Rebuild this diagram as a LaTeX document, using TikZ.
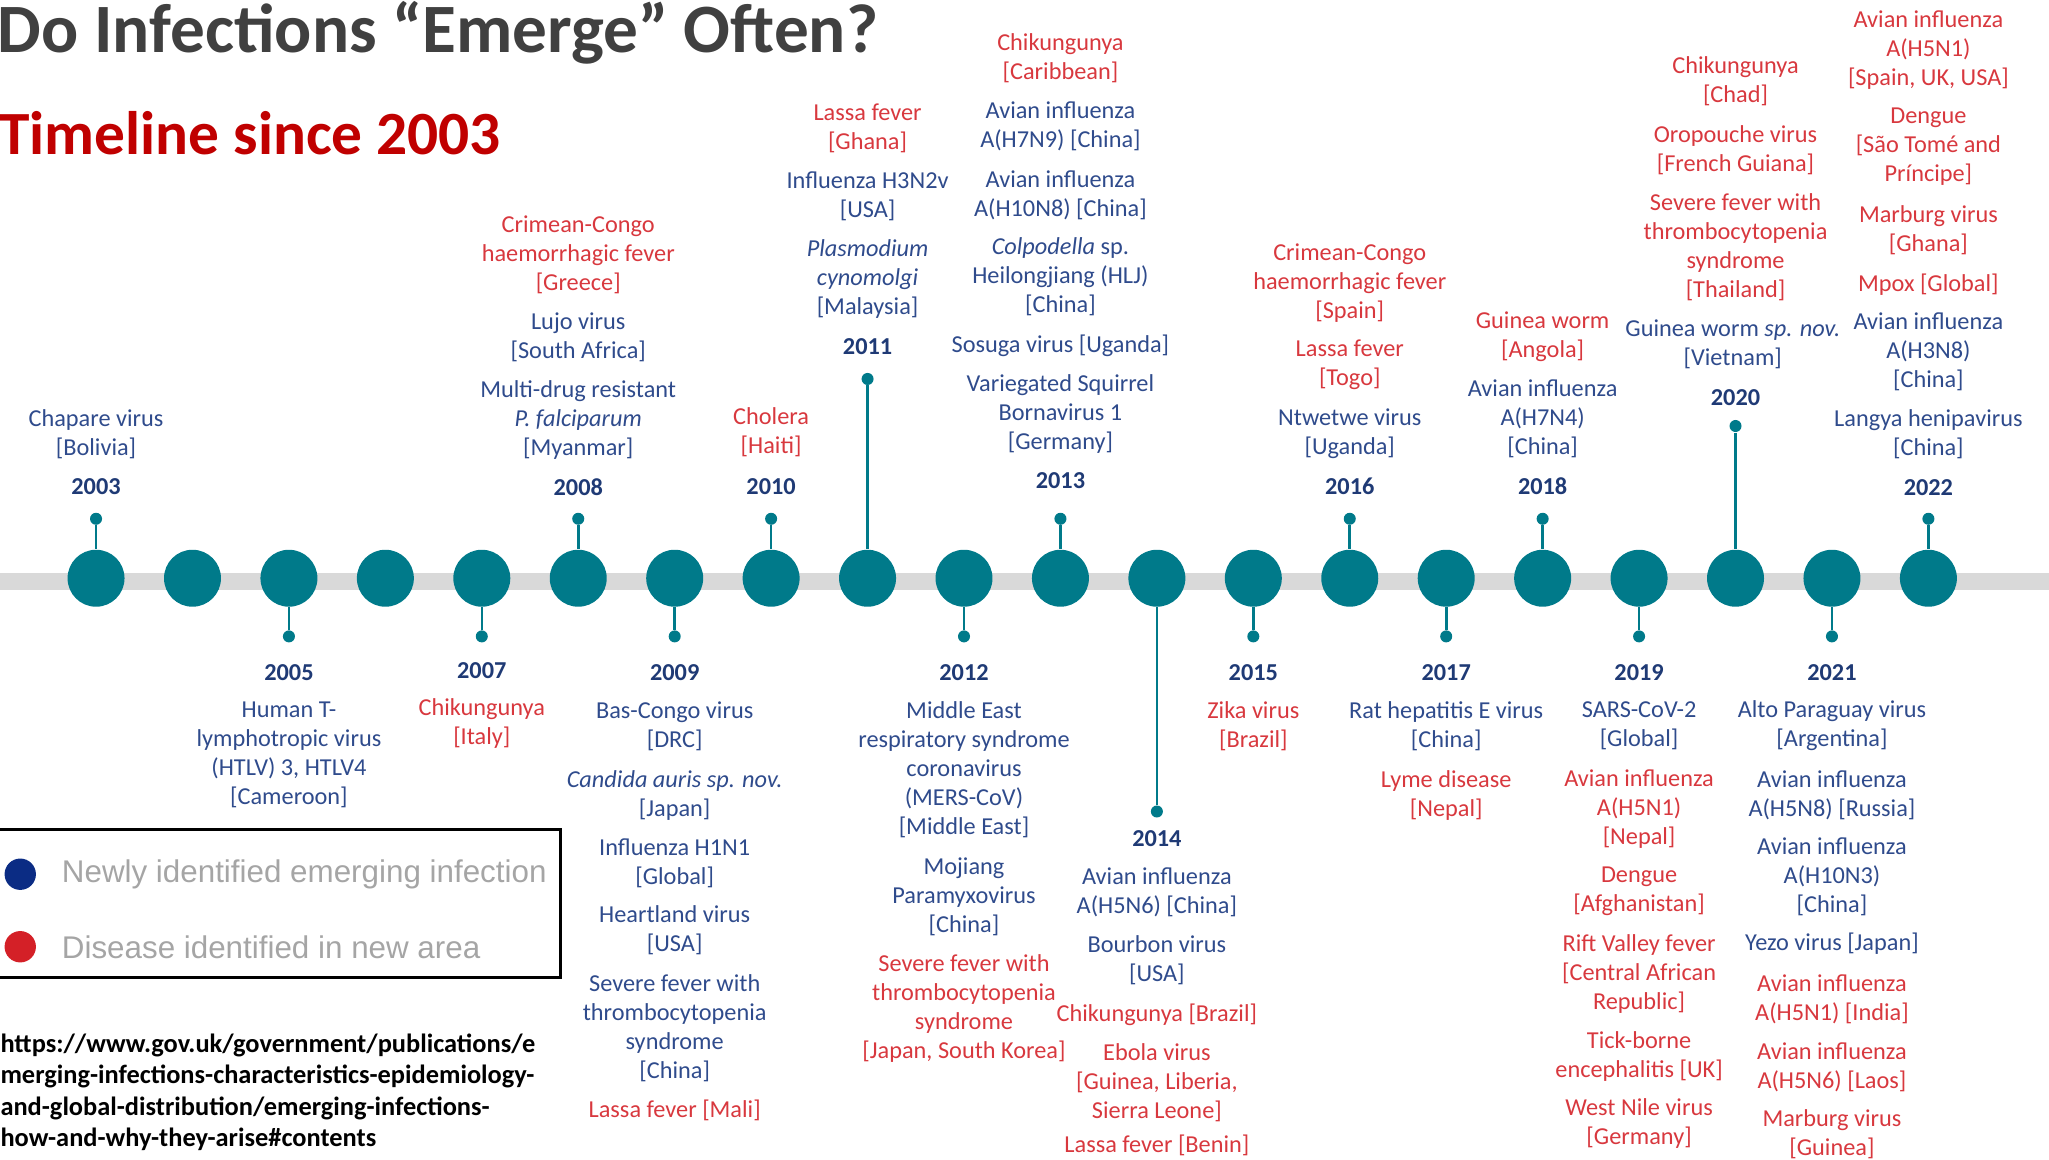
\documentclass[tikz,border=0pt]{standalone}
\usepackage{fontspec}
\setmainfont{Carlito}
\newfontfamily\arialf{Liberation Sans}
\definecolor{tealc}{HTML}{007A8A}
\definecolor{barc}{HTML}{D9D9D9}
\definecolor{blueT}{HTML}{2F4B8C}
\definecolor{redT}{HTML}{D8383E}
\definecolor{navyY}{HTML}{1F3A75}
\definecolor{titlegray}{HTML}{404040}
\definecolor{titlered}{HTML}{C00000}
\definecolor{lgblue}{HTML}{0B2C84}
\definecolor{lgred}{HTML}{D42027}
\definecolor{lggray}{HTML}{A5A5A5}
\begin{document}
\begin{tikzpicture}[x=0.5pt,y=-0.5pt,
  bl/.style={text=blueT,align=center,inner sep=0pt,yshift=-0.75pt,font=\fontsize{9.3}{11.1}\selectfont},
  rd/.style={bl,text=redT},
  yr/.style={text=navyY,inner sep=0pt,yshift=-0.5pt,font=\fontsize{9.3}{11.1}\selectfont\bfseries},
  bigc/.style={circle,fill=tealc,minimum size=21.8pt,inner sep=0pt},
  tipdot/.style={circle,fill=tealc,minimum size=4.6pt,inner sep=0pt},
  stem/.style={draw=tealc,line width=1pt},
  lgtext/.style={anchor=west,inner sep=0pt,text=lggray,font=\arialf\fontsize{12}{14}\selectfont},
]
\useasboundingbox (0,0) rectangle (1568,887);
% timeline bar
\coordinate (barL) at (0,445);
\coordinate (barR) at (1568,445);
\draw[barc,line width=6.5pt] (barL) -- (barR);
% year circles
\foreach \yy in {2003,...,2022}{
  \pgfmathsetmacro\xx{73.5+73.8*(\yy-2003)}
  \node[bigc] (c\yy) at (\xx,442.5) {};
}
% stems, dots, year labels
\foreach \yy/\dy/\ly in {2003/397/371,2008/397/372,2010/397/371,2011/290/264,2013/397/367,2016/397/371,2018/397/371,2020/326/303,2022/397/372,
  2005/487/514,2007/487/512,2009/487/514,2012/487/514,2014/621/641,2015/487/514,2017/487/514,2019/487/514,2021/487/514}{
  \pgfmathsetmacro\xx{73.5+73.8*(\yy-2003)}
  \node[tipdot] (d\yy) at (\xx,\dy) {};
  \draw[stem] (d\yy) -- (c\yy);
  \node[yr] (y\yy) at (\xx,\ly) {\yy};
}
% title
\node[anchor=base west,inner sep=0pt,text=titlegray,font=\fontsize{26.5}{30}\selectfont\bfseries] (title) at (-2,40) {Do Infections “Emerge” Often?};
\node[anchor=base west,inner sep=0pt,text=titlered,font=\fontsize{23.5}{28}\selectfont\bfseries] (subtitle) at (-1,118.6) {Timeline since 2003};
% ---- above entries
% 2003
\node[bl] (e2003a) at (73.5,330.5) {Chapare virus\\{}[Bolivia]};
% 2008
\node[rd] (e2008a) at (442.5,193.5) {Crimean-Congo\\haemorrhagic fever\\{}[Greece]};
\node[bl] (e2008b) at (442.5,256.5) {Lujo virus\\{}[South Africa]};
\node[bl] (e2008c) at (442.5,320) {Multi-drug resistant\\\textit{P. falciparum}\\{}[Myanmar]};
% 2010
\node[rd] (e2010a) at (590.1,329.5) {Cholera\\{}[Haiti]};
% 2011
\node[rd] (e2011a) at (663.9,96.5) {Lassa fever\\{}[Ghana]};
\node[bl] (e2011b) at (663.9,149) {Influenza H3N2v\\{}[USA]};
\node[bl] (e2011c) at (663.9,212) {\textit{Plasmodium}\\\textit{cynomolgi}\\{}[Malaysia]};
% 2013
\node[rd] (e2013a) at (811.5,43) {Chikungunya\\{}[Caribbean]};
\node[bl] (e2013b) at (811.5,95.5) {Avian influenza\\A(H7N9) [China]};
\node[bl] (e2013c) at (811.5,148) {Avian influenza\\A(H10N8) [China]};
\node[bl] (e2013d) at (811.5,210.5) {\textit{Colpodella} sp.\\Heilongjiang (HLJ)\\{}[China]};
\node[bl] (e2013e) at (811.5,263) {Sosuga virus [Uganda]};
\node[bl] (e2013f) at (811.5,315.5) {Variegated Squirrel\\Bornavirus 1\\{}[Germany]};
% 2016
\node[rd] (e2016a) at (1032.9,215) {Crimean-Congo\\haemorrhagic fever\\{}[Spain]};
\node[rd] (e2016b) at (1032.9,278) {Lassa fever\\{}[Togo]};
\node[bl] (e2016c) at (1032.9,330.5) {Ntwetwe virus\\{}[Uganda]};
% 2018
\node[rd] (e2018a) at (1180.5,256) {Guinea worm\\{}[Angola]};
\node[bl] (e2018b) at (1180.5,319) {Avian influenza\\A(H7N4)\\{}[China]};
% 2020
\node[rd] (e2020a) at (1328.1,61) {Chikungunya\\{}[Chad]};
\node[rd] (e2020b) at (1328.1,113.5) {Oropouche virus\\{}[French Guiana]};
\node[rd] (e2020c) at (1328.1,188) {Severe fever with\\thrombocytopenia\\syndrome\\{}[Thailand]};
\node[bl] (e2020d) at (1326,262) {Guinea worm \textit{sp. nov.}\\{}[Vietnam]};
% 2022
\node[rd] (e2022a) at (1475.7,36.5) {Avian influenza\\A(H5N1)\\{}[Spain, UK, USA]};
\node[rd] (e2022b) at (1475.7,111) {Dengue\\{}[São Tomé and\\Príncipe]};
\node[rd] (e2022c) at (1475.7,174.5) {Marburg virus\\{}[Ghana]};
\node[rd] (e2022d) at (1475.7,216) {Mpox [Global]};
\node[bl] (e2022e) at (1475.7,267.5) {Avian influenza\\A(H3N8)\\{}[China]};
\node[bl] (e2022f) at (1475.7,331) {Langya henipavirus\\{}[China]};
% ---- below entries
% 2005
\node[bl] (e2005a) at (221.1,576.5) {Human T-\\lymphotropic virus\\(HTLV) 3, HTLV4\\{}[Cameroon]};
% 2007
\node[rd] (e2007a) at (368.7,552) {Chikungunya\\{}[Italy]};
% 2009
\node[bl] (e2009a) at (516.3,554) {Bas-Congo virus\\{}[DRC]};
\node[bl] (e2009b) at (516.3,607) {\textit{Candida auris sp. nov.}\\{}[Japan]};
\node[bl] (e2009c) at (516.3,659) {Influenza H1N1\\{}[Global]};
\node[bl] (e2009d) at (516.3,710.5) {Heartland virus\\{}[USA]};
\node[bl] (e2009e) at (516.3,785.5) {Severe fever with\\thrombocytopenia\\syndrome\\{}[China]};
\node[rd] (e2009f) at (516.3,848) {Lassa fever [Mali]};
% 2012
\node[bl] (e2012a) at (737.7,587.5) {Middle East\\respiratory syndrome\\coronavirus\\(MERS-CoV)\\{}[Middle East]};
\node[bl] (e2012b) at (737.7,684.5) {Mojiang\\Paramyxovirus\\{}[China]};
\node[rd] (e2012c) at (737.7,770) {Severe fever with\\thrombocytopenia\\syndrome\\{}[Japan, South Korea]};
% 2014
\node[bl] (e2014a) at (885.3,681) {Avian influenza\\A(H5N6) [China]};
\node[bl] (e2014b) at (885.3,733) {Bourbon virus\\{}[USA]};
\node[rd] (e2014c) at (885.3,775) {Chikungunya [Brazil]};
\node[rd] (e2014d) at (885.3,827) {Ebola virus\\{}[Guinea, Liberia,\\Sierra Leone]};
\node[rd,yshift=0.75pt] (e2014e) at (885.3,876.5) {Lassa fever [Benin]};
% 2015
\node[rd] (e2015a) at (959.1,554) {Zika virus\\{}[Brazil]};
% 2017
\node[bl] (e2017a) at (1106.7,554) {Rat hepatitis E virus\\{}[China]};
\node[rd] (e2017b) at (1106.7,607) {Lyme disease\\{}[Nepal]};
% 2019
\node[bl] (e2019a) at (1254.3,554) {SARS-CoV-2\\{}[Global]};
\node[rd] (e2019b) at (1254.3,618) {Avian influenza\\A(H5N1)\\{}[Nepal]};
\node[rd] (e2019c) at (1254.3,680.5) {Dengue\\{}[Afghanistan]};
\node[rd] (e2019d) at (1254.3,743.5) {Rift Valley fever\\{}[Central African\\Republic]};
\node[rd] (e2019e) at (1254.3,807) {Tick-borne\\encephalitis [UK]};
\node[rd] (e2019f) at (1254.3,858.5) {West Nile virus\\{}[Germany]};
% 2021
\node[bl] (e2021a) at (1401.9,554) {Alto Paraguay virus\\{}[Argentina]};
\node[bl] (e2021b) at (1401.9,607) {Avian influenza\\A(H5N8) [Russia]};
\node[bl] (e2021c) at (1401.9,669.5) {Avian influenza\\A(H10N3)\\{}[China]};
\node[bl] (e2021d) at (1401.9,721) {Yezo virus [Japan]};
\node[rd] (e2021e) at (1401.9,763) {Avian influenza\\A(H5N1) [India]};
\node[rd] (e2021f) at (1401.9,815) {Avian influenza\\A(H5N6) [Laos]};
\node[rd,yshift=0.5pt] (e2021g) at (1401.9,867.5) {Marburg virus\\{}[Guinea]};
% ---- legend
\node[draw=black,line width=1pt,minimum width=219.5pt,minimum height=56.5pt,inner sep=0pt] (legend) at (209.5,691.5) {};
\node[circle,fill=lgblue,minimum size=12pt,inner sep=0pt] (lgb) at (15.5,669) {};
\node[circle,fill=lgred,minimum size=12pt,inner sep=0pt] (lgr) at (15.5,724.5) {};
\node[lgtext] (lgt1) at (47,669) {Newly identified emerging infection};
\node[lgtext] (lgt2) at (47,725) {Disease identified in new area};
% ---- source
\node[anchor=west,align=left,inner sep=0pt,text=black,font=\fontsize{10.1}{12}\selectfont\bfseries] (src) at (0,836) {https://www.gov.uk/government/publications/e\\merging-infections-characteristics-epidemiology-\\and-global-distribution/emerging-infections-\\how-and-why-they-arise\#contents};
\end{tikzpicture}
\end{document}
